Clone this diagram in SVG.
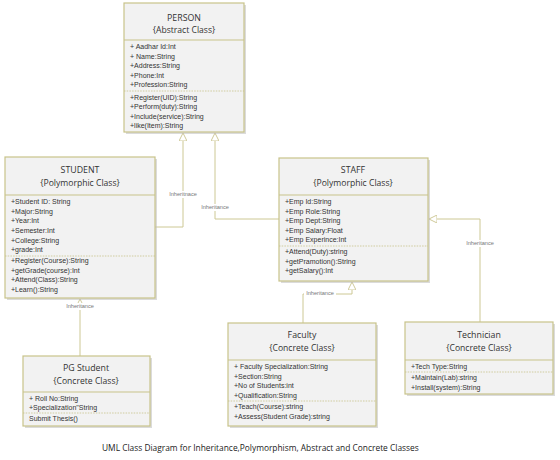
<svg xmlns="http://www.w3.org/2000/svg" width="560" height="460" viewBox="0 0 560 460">
<style>
.box{fill:#f2f2f2;stroke:#c8c38a;stroke-width:1.2}
.shadow{fill:#bdbdbd;opacity:0.55}
.sep{stroke:#c8c38a;stroke-width:1}
.dash{stroke:#c8c38a;stroke-width:0.8;stroke-dasharray:1.5,1.2}
.t{font-family:"Open Sans","Liberation Sans",sans-serif;fill:#333;text-anchor:middle}
.h1{font-size:8.8px}
.h2{font-size:8.6px}
.a{font-family:"Liberation Sans","Open Sans",sans-serif;font-size:7px;fill:#333}
.lbl{font-family:"Liberation Sans",sans-serif;font-size:5.6px;fill:#777;text-anchor:middle}
.con{fill:none;stroke:#cdc894;stroke-width:1}
.cap{font-family:"Open Sans","Liberation Sans",sans-serif;font-size:8.4px;fill:#222}
</style>
<defs>
<marker id="tri" viewBox="0 0 10 10" refX="10" refY="5" markerWidth="8" markerHeight="8" markerUnits="userSpaceOnUse" orient="auto">
<path d="M0,0 L10,5 L0,10 Z" fill="#ffffff" stroke="#cdc894" stroke-width="1.2"/>
</marker>
</defs>
<rect width="560" height="460" fill="#ffffff"/>

<g id="connectors">
<polyline class="con" points="155,227 183,227 183,133" marker-end="url(#tri)"/>
<rect x="166" y="191" width="34" height="7" fill="#fff"/>
<text class="lbl" x="183" y="196">Inheritnace</text>
<polyline class="con" points="279,219 215,219 215,133" marker-end="url(#tri)"/>
<rect x="199" y="204" width="33" height="7" fill="#fff"/>
<text class="lbl" x="215" y="209">Inheritance</text>
<polyline class="con" points="80,356 80,299" marker-end="url(#tri)"/>
<rect x="64" y="303" width="33" height="7" fill="#fff"/>
<text class="lbl" x="80" y="308">Inheritance</text>
<polyline class="con" points="303,323 303,294 352,294 352,282" marker-end="url(#tri)"/>
<rect x="304" y="290" width="32" height="7" fill="#fff"/>
<text class="lbl" x="320" y="295">Inheritance</text>
<polyline class="con" points="480,322 480,219 429,219" marker-end="url(#tri)"/>
<rect x="464" y="240" width="33" height="7" fill="#fff"/>
<text class="lbl" x="480" y="245">Inheritance</text>
</g>

<g id="person">
<rect class="shadow" x="126" y="5" width="120" height="129"/>
<rect class="box" x="124" y="3" width="120" height="129"/>
<line class="sep" x1="124" y1="40" x2="244" y2="40"/>
<line class="dash" x1="124" y1="91" x2="244" y2="91"/>
<text class="t h1" x="184" y="21">PERSON</text>
<text class="t h2" x="184" y="33">{Abstract Class}</text>
<text class="a" x="130" y="49">+ Aadhar Id:Int</text>
<text class="a" x="130" y="58.5">+ Name:String</text>
<text class="a" x="130" y="68">+Address:String</text>
<text class="a" x="130" y="77.5">+Phone:Int</text>
<text class="a" x="130" y="87">+Profession:String</text>
<text class="a" x="130" y="99.5">+Register(UID):String</text>
<text class="a" x="130" y="109">+Perform(duty):String</text>
<text class="a" x="130" y="118.5">+Include(service):String</text>
<text class="a" x="130" y="128">+like(Item):String</text>
</g>

<g id="student">
<rect class="shadow" x="7" y="159" width="150" height="141"/>
<rect class="box" x="5" y="157" width="150" height="141"/>
<line class="sep" x1="5" y1="195" x2="155" y2="195"/>
<line class="dash" x1="5" y1="256" x2="155" y2="256"/>
<text class="t h1" x="80" y="173">STUDENT</text>
<text class="t h2" x="80" y="186">{Polymorphic Class}</text>
<text class="a" x="11" y="204">+Student ID: String</text>
<text class="a" x="11" y="213.5">+Major:String</text>
<text class="a" x="11" y="223">+Year:Int</text>
<text class="a" x="11" y="233">+Semester:Int</text>
<text class="a" x="11" y="242.5">+College:String</text>
<text class="a" x="11" y="252">+grade:Int</text>
<text class="a" x="11" y="263">+Register(Course):String</text>
<text class="a" x="11" y="272.5">+getGrade(course):Int</text>
<text class="a" x="11" y="282">+Attend(Class):String</text>
<text class="a" x="11" y="291.5">+Learn():String</text>
</g>

<g id="staff">
<rect class="shadow" x="281" y="160" width="149" height="123"/>
<rect class="box" x="279" y="158" width="149" height="123"/>
<line class="sep" x1="279" y1="195" x2="428" y2="195"/>
<line class="dash" x1="279" y1="246" x2="428" y2="246"/>
<text class="t h1" x="353" y="173">STAFF</text>
<text class="t h2" x="353" y="186">{Polymorphic Class}</text>
<text class="a" x="285" y="204">+Emp Id:String</text>
<text class="a" x="285" y="213.5">+Emp Role:String</text>
<text class="a" x="285" y="223">+Emp Dept:String</text>
<text class="a" x="285" y="232.5">+Emp Salary:Float</text>
<text class="a" x="285" y="242">+Emp Experince:Int</text>
<text class="a" x="285" y="254">+Attend(Duty):string</text>
<text class="a" x="285" y="263.5">+getPramotion():String</text>
<text class="a" x="285" y="273">+getSalary():Int</text>
</g>

<g id="pg-student">
<rect class="shadow" x="25" y="358" width="127" height="70"/>
<rect class="box" x="23" y="356" width="127" height="70"/>
<line class="sep" x1="23" y1="392" x2="150" y2="392"/>
<line class="dash" x1="23" y1="413" x2="150" y2="413"/>
<text class="t h1" x="86" y="371">PG Student</text>
<text class="t h2" x="86" y="384">{Concrete Class}</text>
<text class="a" x="29" y="401">+ Roll No:String</text>
<text class="a" x="29" y="410">+Specialization"String</text>
<text class="a" x="29" y="421">Submit Thesis()</text>
</g>

<g id="faculty">
<rect class="shadow" x="230" y="325" width="148" height="103"/>
<rect class="box" x="228" y="323" width="148" height="103"/>
<line class="sep" x1="228" y1="360" x2="376" y2="360"/>
<line class="dash" x1="228" y1="401" x2="376" y2="401"/>
<text class="t h1" x="302" y="338">Faculty</text>
<text class="t h2" x="302" y="351">{Concrete Class}</text>
<text class="a" x="234" y="369">+ Faculty Specialization:String</text>
<text class="a" x="234" y="378.5">+Section:String</text>
<text class="a" x="234" y="388">+No of Students:int</text>
<text class="a" x="234" y="397.5">+Qualification:String</text>
<text class="a" x="234" y="409">+Teach(Course):string</text>
<text class="a" x="234" y="418.5">+Assess(Student Grade):string</text>
</g>

<g id="technician">
<rect class="shadow" x="407" y="324" width="148" height="72"/>
<rect class="box" x="405" y="322" width="148" height="72"/>
<line class="sep" x1="405" y1="360" x2="553" y2="360"/>
<line class="dash" x1="405" y1="372" x2="553" y2="372"/>
<text class="t h1" x="479" y="338">Technician</text>
<text class="t h2" x="479" y="351">{Concrete Class}</text>
<text class="a" x="411" y="369">+Tech Type:String</text>
<text class="a" x="411" y="380">+Maintain(Lab):string</text>
<text class="a" x="411" y="389.5">+Install(system):String</text>
</g>

<text class="cap" x="102" y="451">UML Class Diagram for Inheritance,Polymorphism, Abstract and Concrete Classes</text>
</svg>
